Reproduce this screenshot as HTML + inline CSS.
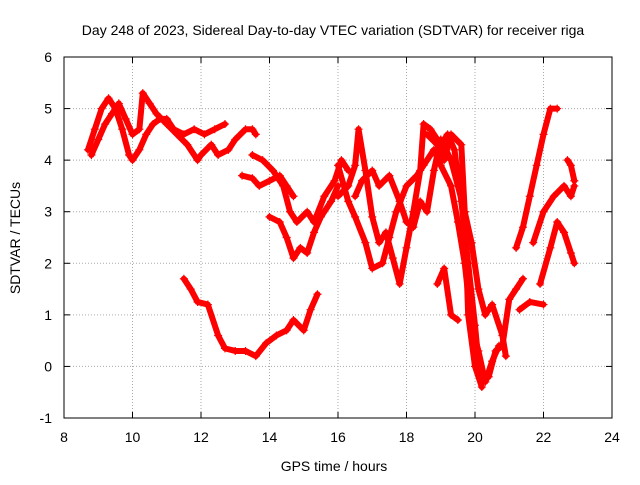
<!DOCTYPE html>
<html><head><meta charset="utf-8"><style>
body{margin:0;background:#fff}
svg text{font-family:"Liberation Sans",sans-serif;font-size:14px;fill:#000}
</style></head><body>
<svg id="c" width="640" height="480" xmlns="http://www.w3.org/2000/svg">
<rect width="640" height="480" fill="#fff"/>
<text x="333" y="35" text-anchor="middle">Day 248 of 2023, Sidereal Day-to-day VTEC variation (SDTVAR) for receiver riga</text>
<text x="334" y="471" text-anchor="middle">GPS time / hours</text>
<text transform="translate(20,238) rotate(-90)" text-anchor="middle">SDTVAR / TECUs</text>
<g id="grid"></g><g id="series"></g>
<rect x="64" y="57" width="548" height="361" fill="none" stroke="#000"/>
</svg>
<script>
const xTicks=[8,10,12,14,16,18,20,22,24];
const yTicks=[-1,0,1,2,3,4,5,6];
const trackA=[[8.7,4.2],[8.9,4.6],[9.1,5.0],[9.3,5.2],[9.5,5.0],[9.7,4.6],[9.9,4.1],[10.0,4.0],[10.2,4.2],[10.4,4.5],[10.6,4.7],[10.8,4.8],[11.0,4.8],[11.2,4.6],[11.5,4.5],[11.8,4.6],[12.1,4.5],[12.4,4.6],[12.7,4.7]];
const trackB=[[8.8,4.1],[9.0,4.4],[9.2,4.7],[9.4,4.9],[9.6,5.1],[9.8,4.8],[10.0,4.5],[10.2,4.6],[10.3,5.3],[10.5,5.1],[10.7,4.9],[11.0,4.7]];
const trackC=[[11.0,4.7],[11.3,4.5],[11.6,4.3],[11.9,4.0],[12.0,4.1],[12.3,4.3],[12.5,4.1],[12.8,4.2],[13.0,4.4],[13.3,4.6],[13.5,4.6],[13.6,4.5]];
const trackD=[[13.2,3.7],[13.5,3.65],[13.7,3.5],[14.0,3.6],[14.3,3.7],[14.5,3.5],[14.7,3.3]];
const trackE=[[13.5,4.1],[13.8,4.0],[14.1,3.8],[14.4,3.5],[14.6,3.0],[14.8,2.8],[15.1,3.0],[15.3,2.8],[15.6,3.3],[15.9,3.6],[16.1,4.0],[16.3,3.8]];
const trackF=[[14.0,2.9],[14.3,2.8],[14.5,2.5],[14.7,2.1],[14.9,2.3],[15.1,2.2],[15.3,2.6],[15.5,2.9],[15.8,3.2],[16.0,3.5]];
const trackG=[[11.5,1.7],[11.7,1.5],[11.9,1.25],[12.2,1.2],[12.5,0.6],[12.7,0.35],[13.0,0.3],[13.3,0.3],[13.6,0.2],[13.9,0.45],[14.2,0.6],[14.5,0.7],[14.7,0.9],[15.0,0.7],[15.2,1.1],[15.4,1.4]];
const trackH=[[16.0,3.3],[16.3,3.5],[16.5,3.9],[16.6,4.6],[16.8,3.8],[17.0,2.9],[17.2,2.4],[17.4,2.6],[17.6,2.1],[17.8,1.6],[18.0,2.3],[18.2,3.0],[18.4,3.8],[18.5,4.7],[18.7,4.6],[19.0,4.3],[19.2,4.5],[19.4,4.2],[19.6,3.2],[19.8,2.0],[20.0,0.8],[20.1,0.1],[20.2,-0.3],[20.4,-0.2],[20.6,0.3],[20.8,0.4],[21.0,1.3],[21.2,1.5],[21.4,1.7]];
const trackI=[[16.0,3.9],[16.3,3.2],[16.5,2.9],[16.8,2.4],[17.0,1.9],[17.3,2.0],[17.5,2.5],[17.7,3.0],[18.0,3.5],[18.3,3.7],[18.5,3.9],[18.8,4.2],[19.0,3.9],[19.3,3.5],[19.5,2.8],[19.7,2.0],[19.9,0.8],[20.1,0.3],[20.3,-0.3],[20.5,0.1],[20.7,0.4]];
const trackJ=[[16.5,3.3],[16.7,3.6],[17.0,3.8],[17.2,3.5],[17.5,3.7],[17.8,3.2],[18.0,2.8],[18.2,2.7],[18.4,3.2],[18.6,3.0],[18.8,3.8],[19.0,4.4],[19.3,4.0],[19.5,3.5],[19.7,3.0],[19.9,2.4],[20.1,1.5],[20.3,1.0],[20.5,1.2],[20.8,0.6],[20.9,0.2]];
const trackK=[[18.6,4.5],[18.9,4.3],[19.1,4.0],[19.3,4.5],[19.6,4.3],[19.7,3.0],[19.8,1.0],[20.0,0.0],[20.2,-0.4]];
const trackL=[[18.9,1.6],[19.1,1.9],[19.3,1.0],[19.5,0.9]];
const trackM=[[21.3,1.1],[21.6,1.25],[22.0,1.2]];
const trackN=[[21.2,2.3],[21.4,2.7],[21.6,3.3],[21.8,3.9],[22.0,4.5],[22.2,5.0],[22.4,5.0]];
const trackO=[[21.9,1.6],[22.2,2.3],[22.4,2.8],[22.6,2.6],[22.8,2.2],[22.9,2.0]];
const trackP=[[21.7,2.4],[22.0,3.0],[22.3,3.3],[22.6,3.5],[22.8,3.3],[22.9,3.5]];
const trackQ=[[22.7,4.0],[22.8,3.9],[22.9,3.6]];
const tracks=[trackA,trackB,trackC,trackD,trackE,trackF,trackG,trackH,trackI,trackJ,trackK,trackL,trackM,trackN,trackO,trackP,trackQ];
const NS="http://www.w3.org/2000/svg";
const X=v=>64+(v-8)*548/16, Y=v=>418-(v+1)*361/7;
const grid=document.getElementById('grid'), ser=document.getElementById('series');
function mk(tag,a,p){const e=document.createElementNS(NS,tag);for(const k in a)e.setAttribute(k,a[k]);p.appendChild(e);return e;}
xTicks.forEach(t=>{
 if(t>8&&t<24){const l=mk('line',{x1:X(t),x2:X(t),y1:57,y2:418,stroke:'#aaa','stroke-dasharray':'1,2'},grid);
 
 }
 const tx=mk('text',{x:X(t),y:442,'text-anchor':'middle'},grid);tx.textContent=t;
 
 
 mk('line',{x1:X(t),x2:X(t),y1:418,y2:412,stroke:'#000'},grid);
 mk('line',{x1:X(t),x2:X(t),y1:57,y2:63,stroke:'#000'},grid);
});
yTicks.forEach(t=>{
 if(t>-1&&t<6){const l=mk('line',{x1:64,x2:612,y1:Y(t),y2:Y(t),stroke:'#aaa','stroke-dasharray':'1,2'},grid);
 
 }
 const tx=mk('text',{x:52,y:Y(t)+5,'text-anchor':'end'},grid);tx.textContent=t;
 
 
 mk('line',{x1:64,x2:70,y1:Y(t),y2:Y(t),stroke:'#000'},grid);
 mk('line',{x1:612,x2:606,y1:Y(t),y2:Y(t),stroke:'#000'},grid);
});
tracks.forEach((tr,i)=>{
 const g=mk('g',{},ser);
 
 
 mk('polyline',{points:tr.map(p=>X(p[0])+','+Y(p[1])).join(' '),fill:'none',stroke:'#f00','stroke-width':6,'stroke-linejoin':'round','stroke-linecap':'round'},g);
 tr.forEach(p=>{const x=X(p[0]),y=Y(p[1]);
  mk('path',{d:`M${x-4},${y}H${x+4}M${x},${y-4}V${y+4}`,stroke:'#f00','stroke-width':1.2},g);});
});
</script>
</body></html>
